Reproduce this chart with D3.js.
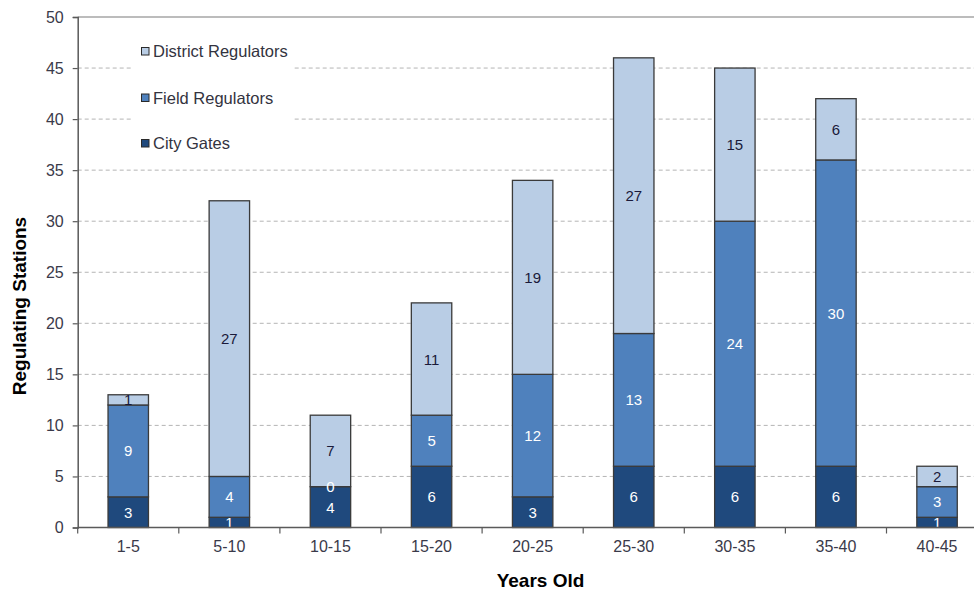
<!DOCTYPE html>
<html>
<head>
<meta charset="utf-8">
<script src="https://cdn.jsdelivr.net/npm/d3@7"></script>
<style>
  html, body { margin: 0; padding: 0; background: #fff; }
  svg { display: block; }
</style>
</head>
<body>
<svg id="chart" width="974" height="592"></svg>
<script>
// Age bands of the regulating stations
const ageBands = ["1-5", "5-10", "10-15", "15-20", "20-25", "25-30", "30-35", "35-40", "40-45"];

// Station counts per age band, stacked bottom to top
const cityGates           = [3, 1, 4, 6, 3, 6, 6, 6, 1];
const fieldRegulators     = [9, 4, 0, 5, 12, 13, 24, 30, 3];
const districtRegulators  = [1, 27, 7, 11, 19, 27, 15, 6, 2];

const seriesNames  = ["City Gates", "Field Regulators", "District Regulators"];
const seriesColors = ["#1f497d", "#4f81bd", "#b9cde5"];
const labelColors  = ["#ffffff", "#ffffff", "#1a1a3a"];

const yTicks = [0, 5, 10, 15, 20, 25, 30, 35, 40, 45, 50];

const svg = d3.select("#chart");
const W = 974;
const plotLeft = 77.7, plotTop = 17, plotBottom = 527.5;
const plotRight = 77.7 + 9 * 101.1;

const x = d3.scaleBand()
  .domain(ageBands)
  .range([plotLeft, plotRight])
  .paddingInner(0.6)
  .paddingOuter(0.3);

const y = d3.scaleLinear().domain([0, 50]).range([plotBottom, plotTop]);

// Horizontal gridlines
svg.append("g")
  .selectAll("line")
  .data(yTicks.filter(t => t > 0 && t < 50))
  .join("line")
  .attr("x1", plotLeft).attr("x2", W)
  .attr("y1", d => y(d)).attr("y2", d => y(d))
  .attr("stroke", "#b4b4b4")
  .attr("stroke-width", 1)
  .attr("stroke-dasharray", "4,3");

// Top border of the plot area
svg.append("line")
  .attr("x1", plotLeft).attr("x2", W)
  .attr("y1", y(50)).attr("y2", y(50))
  .attr("stroke", "#a6a6a6").attr("stroke-width", 1.5);

// Stack the series
const rows = ageBands.map((band, i) => ({
  band,
  "City Gates": cityGates[i],
  "Field Regulators": fieldRegulators[i],
  "District Regulators": districtRegulators[i]
}));
const stacked = d3.stack().keys(seriesNames)(rows);

const layers = svg.append("g")
  .selectAll("g")
  .data(stacked)
  .join("g")
  .attr("fill", (d, i) => seriesColors[i]);

layers.selectAll("rect")
  .data(d => d)
  .join("rect")
  .attr("x", d => x(d.data.band))
  .attr("width", x.bandwidth())
  .attr("y", d => y(d[1]))
  .attr("height", d => y(d[0]) - y(d[1]))
  .attr("stroke", "#3a3a3a")
  .attr("stroke-width", 1.3);

// Segment value labels
stacked.forEach((layer, si) => {
  svg.append("g")
    .selectAll("text")
    .data(layer)
    .join("text")
    .attr("x", d => x(d.data.band) + x.bandwidth() / 2)
    .attr("y", d => y((d[0] + d[1]) / 2))
    .attr("text-anchor", "middle")
    .attr("dominant-baseline", "central")
    .attr("font-family", "'Liberation Sans', Arial, sans-serif")
    .attr("font-size", 15)
    .attr("fill", labelColors[si])
    .text(d => d[1] - d[0]);
});

// Y axis
const yAxis = svg.append("g")
  .attr("transform", `translate(${plotLeft},0)`)
  .call(d3.axisLeft(y).tickValues(yTicks).tickSize(5).tickPadding(9));
yAxis.select(".domain").attr("stroke", "#5a5a5a").attr("stroke-width", 1.5);
yAxis.selectAll(".tick line").attr("stroke", "#5a5a5a").attr("stroke-width", 1.2);
yAxis.selectAll("text")
  .attr("font-family", "'Liberation Sans', Arial, sans-serif")
  .attr("font-size", 16)
  .attr("fill", "#3a3a4a");

// X axis line with tick marks on band boundaries
svg.append("line")
  .attr("x1", plotLeft).attr("x2", W)
  .attr("y1", plotBottom).attr("y2", plotBottom)
  .attr("stroke", "#5a5a5a").attr("stroke-width", 1.5);

const gap = (x.step() - x.bandwidth()) / 2;
const boundaries = ageBands.map(b => x(b) - gap).concat([x(ageBands[ageBands.length - 1]) + x.bandwidth() + gap]);
svg.append("g")
  .selectAll("line")
  .data(boundaries)
  .join("line")
  .attr("x1", d => d).attr("x2", d => d)
  .attr("y1", plotBottom).attr("y2", plotBottom + 6)
  .attr("stroke", "#5a5a5a").attr("stroke-width", 1.2);

svg.append("g")
  .selectAll("text")
  .data(ageBands)
  .join("text")
  .attr("x", d => x(d) + x.bandwidth() / 2)
  .attr("y", 546)
  .attr("text-anchor", "middle")
  .attr("dominant-baseline", "central")
  .attr("font-family", "'Liberation Sans', Arial, sans-serif")
  .attr("font-size", 16)
  .attr("fill", "#3a3a4a")
  .text(d => d);

// Axis titles
svg.append("text")
  .attr("x", 540.5).attr("y", 586.5)
  .attr("text-anchor", "middle")
  .attr("font-family", "'Liberation Sans', Arial, sans-serif")
  .attr("font-weight", "bold")
  .attr("font-size", 19)
  .attr("fill", "#000")
  .text("Years Old");

svg.append("text")
  .attr("transform", "translate(25.5,306) rotate(-90)")
  .attr("text-anchor", "middle")
  .attr("font-family", "'Liberation Sans', Arial, sans-serif")
  .attr("font-weight", "bold")
  .attr("font-size", 19)
  .attr("fill", "#000")
  .text("Regulating Stations");

// Legend (white box hides the gridlines behind it)
const legend = svg.append("g");
legend.append("rect")
  .attr("x", 132).attr("y", 28)
  .attr("width", 161).attr("height", 134)
  .attr("fill", "#fff");

const legendOrder = [2, 1, 0];
const legendRowsY = [51, 97.5, 143];
legendOrder.forEach((si, r) => {
  legend.append("rect")
    .attr("x", 141.5).attr("y", legendRowsY[r] - 3.5)
    .attr("width", 7.5).attr("height", 7.5)
    .attr("fill", seriesColors[si])
    .attr("stroke", "#2a2a2a").attr("stroke-width", 1);
  legend.append("text")
    .attr("x", 153).attr("y", legendRowsY[r])
    .attr("dominant-baseline", "central")
    .attr("font-family", "'Liberation Sans', Arial, sans-serif")
    .attr("font-size", 16.5)
    .attr("fill", "#333340")
    .text(seriesNames[si]);
});
</script>
</body>
</html>
